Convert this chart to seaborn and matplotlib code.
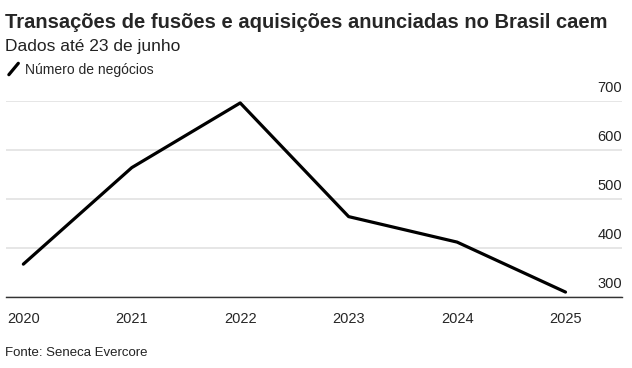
import pandas as pd
import seaborn as sns
import matplotlib.pyplot as plt
from matplotlib.lines import Line2D
import matplotlib.transforms as mtransforms

years = [2020, 2021, 2022, 2023, 2024, 2025]
deals = [367, 564, 696, 464, 412, 310]
y_ticks = [300, 400, 500, 600, 700]

df = pd.DataFrame({"ano": years, "negocios": deals})

sns.set_style("white")
plt.rcParams["font.family"] = ["Liberation Sans", "DejaVu Sans"]

fig = plt.figure(figsize=(6.32, 3.68), dpi=100)
ax = fig.add_axes([0.0095, 0.193, 0.9745, 0.5326])

sns.lineplot(data=df, x="ano", y="negocios", color="black", linewidth=2.3, ax=ax)

ax.set_xlim(2019.84, 2025.52)
ax.set_ylim(300, 700)
ax.set_xticks(years)
ax.set_xticklabels([str(y) for y in years], fontsize=10.5)
ax.set_yticks(y_ticks)
ax.set_yticklabels([])
ax.tick_params(axis="y", length=0)
ax.tick_params(axis="x", length=5, width=0.8, color="#333333", pad=6)
ax.set_xlabel("")
ax.set_ylabel("")

for s in ["top", "left", "right"]:
    ax.spines[s].set_visible(False)
ax.spines["bottom"].set_color("#333333")
ax.spines["bottom"].set_linewidth(1.0)

ax.grid(axis="y", color="#e4e4e4", linewidth=1.3)
ax.set_axisbelow(True)

trans = mtransforms.blended_transform_factory(ax.transAxes, ax.transData)
for v in y_ticks:
    ax.text(1.0, v + 12, str(v), transform=trans, ha="right", va="bottom",
            fontsize=10.5, color="#222222")

fig.text(0.008, 0.965, "Transações de fusões e aquisições anunciadas no Brasil caem",
         fontsize=14.5, fontweight="bold", ha="left", va="top")
fig.text(0.008, 0.893, "Dados até 23 de junho", fontsize=12.5, ha="left", va="top",
         color="#222222")
fig.add_artist(Line2D([0.014, 0.029], [0.797, 0.828], color="black", linewidth=2.3,
                      transform=fig.transFigure))
fig.text(0.04, 0.830, "Número de negócios", fontsize=10, ha="left", va="top")
fig.text(0.008, 0.057, "Fonte: Seneca Evercore", fontsize=9.5, ha="left", va="top",
         color="#222222")

plt.savefig("out.png", dpi=100)
